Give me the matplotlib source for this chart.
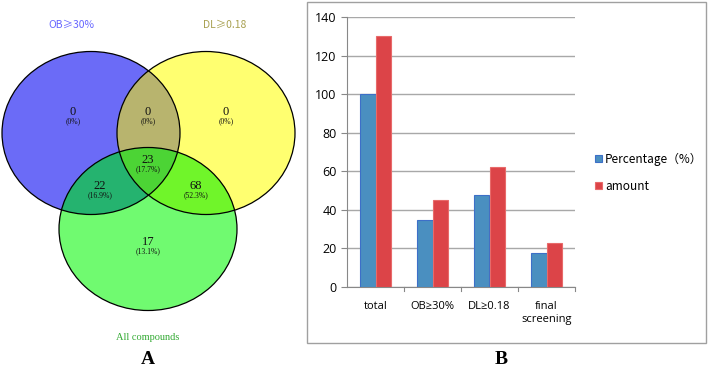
import numpy as np
import matplotlib
matplotlib.use("Agg")
import matplotlib.pyplot as plt
from matplotlib.patches import Ellipse, Polygon, Rectangle

# ---------------- data ----------------
set_names = ["OB≥30%", "DL≥0.18", "All compounds"]
region_counts = {"A": 0, "B": 0, "AB": 0, "ABC": 23, "AC": 22, "BC": 68, "C": 17}
region_pcts = {"A": "(0%)", "B": "(0%)", "AB": "(0%)", "ABC": "(17.7%)",
               "AC": "(16.9%)", "BC": "(52.3%)", "C": "(13.1%)"}

categories = ["total", "OB≥30%", "DL≥0.18", "final\nscreening"]
percentage = [100, 34.6, 47.7, 17.7]
amount = [130, 45, 62, 23]
series_names = ["Percentage（%）", "amount"]
yticks = [0, 20, 40, 60, 80, 100, 120, 140]

W, H = 709, 370
fig = plt.figure(figsize=(W / 100, H / 100), dpi=100)

# ---------------- Venn (panel A) ----------------
axv = fig.add_axes([0, 0, 350 / W, 1])
axv.set_xlim(0, 350)
axv.set_ylim(H, 0)
axv.axis("off")

RX, RY = 89, 81.5
centers = {"A": (91, 133), "B": (206, 133), "C": (148, 229)}
fills = {"A": "#6B6BF7", "B": "#FFFF70", "C": "#70FA70",
         "AB": "#B8B46E", "AC": "#25B36F", "BC": "#70F52A", "ABC": "#4CD435"}

def boundary(c, n=720):
    t = np.linspace(0, 2 * np.pi, n, endpoint=False)
    return np.column_stack([c[0] + RX * np.cos(t), c[1] + RY * np.sin(t)])

def inside(pts, c):
    return ((pts[:, 0] - c[0]) / RX) ** 2 + ((pts[:, 1] - c[1]) / RY) ** 2 <= 1.0 + 1e-9

def intersection(keys):
    pts = []
    for k in keys:
        b = boundary(centers[k])
        mask = np.ones(len(b), bool)
        for o in keys:
            if o != k:
                mask &= inside(b, centers[o])
        pts.append(b[mask])
    pts = np.vstack(pts)
    cen = pts.mean(axis=0)
    ang = np.arctan2(pts[:, 1] - cen[1], pts[:, 0] - cen[0])
    return pts[np.argsort(ang)]

for k in ["A", "B", "C"]:
    axv.add_patch(Ellipse(centers[k], 2 * RX, 2 * RY, facecolor=fills[k], edgecolor="none"))
for keys in [("A", "B"), ("A", "C"), ("B", "C"), ("A", "B", "C")]:
    axv.add_patch(Polygon(intersection(keys), closed=True,
                          facecolor=fills["".join(keys)], edgecolor="none"))
for k in ["A", "B", "C"]:
    axv.add_patch(Ellipse(centers[k], 2 * RX, 2 * RY, facecolor="none",
                          edgecolor="black", linewidth=0.9))

label_pos = {"A": (73, 112), "AB": (148, 112), "B": (226, 112), "ABC": (148, 160),
             "AC": (100, 186), "BC": (196, 186), "C": (148, 242)}
serif = ["Liberation Serif", "DejaVu Serif"]
for k, (x, y) in label_pos.items():
    axv.text(x, y, str(region_counts[k]), ha="center", va="center",
             fontsize=9, family=serif, color="#111111")
    axv.text(x, y + 9, region_pcts[k], ha="center", va="center",
             fontsize=5.5, family=serif, color="#111111")

axv.text(71, 25, set_names[0], ha="center", va="center", fontsize=7.5,
         family=["Noto Sans CJK SC", "DejaVu Sans"], color="#6666FF")
axv.text(225, 25, set_names[1], ha="center", va="center", fontsize=7.5,
         family=["Noto Sans CJK SC", "DejaVu Sans"], color="#A8A050")
axv.text(148, 338, set_names[2], ha="center", va="center", fontsize=7.5,
         family=serif, color="#33AA33")
axv.text(148, 360, "A", ha="center", va="center", fontsize=14,
         fontweight="bold", family=serif)

# ---------------- bar chart (panel B) ----------------
# panel frame
fig.patches.append(Rectangle((307 / W, 1 - 343 / H), (706 - 307) / W, (343 - 2) / H,
                             transform=fig.transFigure, facecolor="white",
                             edgecolor="#A0A0A0", linewidth=1.0, zorder=-5))

axb = fig.add_axes([347 / W, 1 - 287 / H, (575 - 347) / W, (287 - 17) / H])
axb.set_zorder(2)
x = np.arange(len(categories))
bw = 0.28
sans = ["Open Sans", "DejaVu Sans"]
b1 = axb.bar(x - bw / 2, percentage, bw, color="#4A8FC0", edgecolor="#3D6FC8",
             linewidth=0.8, label=series_names[0], zorder=3)
b2 = axb.bar(x + bw / 2, amount, bw, color="#DC4448", edgecolor="#E86A6A",
             linewidth=0.8, label=series_names[1], zorder=3)
axb.set_xlim(-0.5, len(categories) - 0.5)
axb.set_ylim(0, 140)
axb.set_yticks(yticks)
axb.yaxis.grid(True, color="#A8A8A8", linewidth=1.0, zorder=0)
axb.set_axisbelow(True)
for s in ["top", "right"]:
    axb.spines[s].set_visible(False)
axb.spines["left"].set_color("#888888")
axb.spines["bottom"].set_color("#888888")
axb.set_xticks(x)
axb.set_xticklabels(categories, fontsize=8, family=sans, linespacing=1.3)
axb.tick_params(axis="x", length=0, pad=10)
axb.tick_params(axis="y", labelsize=9, length=4, color="#888888")
for lab in axb.get_yticklabels():
    lab.set_family(sans)
# category separator ticks
for b in np.arange(0.5, len(categories), 1.0):
    axb.plot([b, b], [0, -2.2], color="#888888", linewidth=0.8, clip_on=False)

leg = fig.legend(handles=[b1, b2], labels=series_names,
                 loc="upper left", bbox_to_anchor=(584 / W, 1 - 142 / H),
                 frameon=False, handlelength=0.6, handleheight=0.6,
                 handletextpad=0.3, labelspacing=1.2,
                 prop={"family": ["Noto Sans CJK SC", "DejaVu Sans"], "size": 8.5})

fig.text(501 / W, 1 - 360 / H, "B", ha="center", va="center", fontsize=14,
         fontweight="bold", family=serif)

fig.savefig("out.png", dpi=100)
